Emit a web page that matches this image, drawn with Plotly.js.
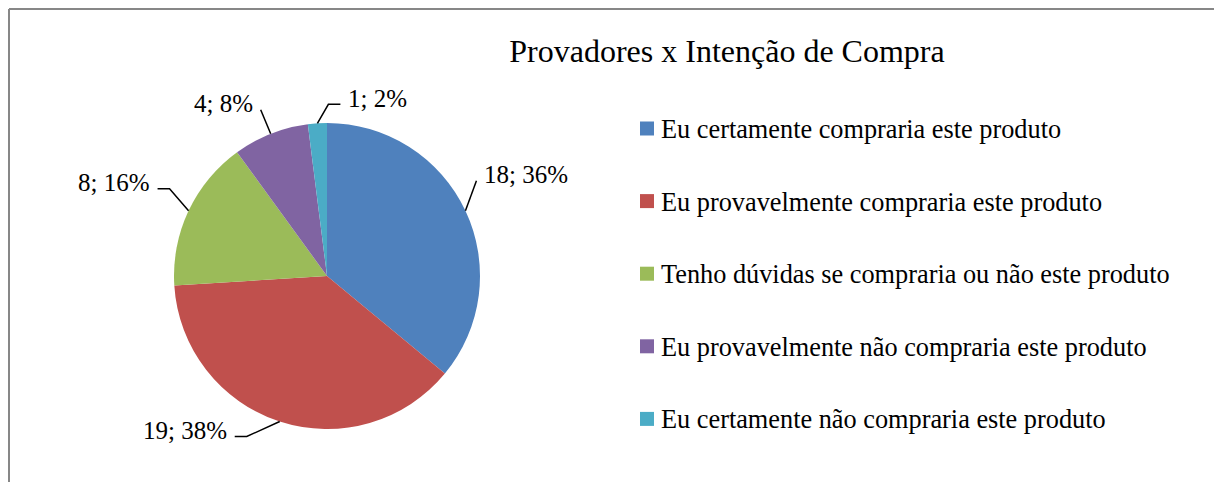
<!DOCTYPE html>
<html>
<head>
<meta charset="utf-8">
<script src="https://cdn.plot.ly/plotly-3.0.1.min.js"></script>
<style>
  html, body { margin: 0; padding: 0; background: #fff; }
  #chart { width: 1214px; height: 482px; }
</style>
</head>
<body>
<div id="chart"></div>
<script>
// ---- data ----
const titleText = "Provadores x Intenção de Compra";
const categories = [
  "Eu certamente compraria este produto",
  "Eu provavelmente compraria este produto",
  "Tenho dúvidas se compraria ou não este produto",
  "Eu provavelmente não compraria este produto",
  "Eu certamente não compraria este produto"
];
const counts = [18, 19, 8, 4, 1];
const colors = ["#4F81BD", "#C0504D", "#9BBB59", "#8064A2", "#4BACC6"];

// ---- layout constants (pixels) ----
const W = 1214, H = 482;
const FONT = "Liberation Serif";
const pieCx = 327, pieCy = 276, pieR = 153;
// leader lines: offset of elbow from slice edge [dx, dy] and horizontal tail length
const leaderStyle = [[11, -30, 0], [-33, 15, -12], [-19, -22, -12], [-10, -24, 0], [11, -19, 12]];
const legendX = 640, legendTop = 128.5, legendStep = 72.6, legendBox = 14;

const px = v => v / W;
const py = v => 1 - v / H;

const total = counts.reduce((a, b) => a + b, 0);

const trace = {
  type: "pie",
  values: counts,
  labels: categories,
  marker: { colors: colors, line: { width: 0 } },
  sort: false,
  direction: "clockwise",
  rotation: 0,
  textinfo: "none",
  hoverinfo: "skip",
  showlegend: false,
  domain: { x: [px(pieCx - pieR), px(pieCx + pieR)], y: [py(pieCy + pieR), py(pieCy - pieR)] }
};

const shapes = [];
const annotations = [];

// chart frame
shapes.push({ type: "line", xref: "paper", yref: "paper", x0: px(9), y0: py(9), x1: px(W + 5), y1: py(9), line: { color: "#878787", width: 2 } });
shapes.push({ type: "line", xref: "paper", yref: "paper", x0: px(9), y0: py(9), x1: px(9), y1: py(H + 5), line: { color: "#878787", width: 2 } });

// data labels with leader lines
let cum = 0;
counts.forEach((v, i) => {
  const mid = (cum + v / 2) / total * 2 * Math.PI;
  cum += v;
  const ex = pieCx + pieR * Math.sin(mid);
  const ey = pieCy - pieR * Math.cos(mid);
  const [dx, dy, tail] = leaderStyle[i];
  const kx = ex + dx, ky = ey + dy;
  const tx = kx + tail, ty = ky;
  const side = tail !== 0 ? Math.sign(tail) : Math.sign(dx);
  shapes.push({
    type: "path", xref: "paper", yref: "paper",
    path: `M ${px(ex)} ${py(ey)} L ${px(kx)} ${py(ky)} L ${px(tx)} ${py(ty)}`,
    line: { color: "#000", width: 1.5 }
  });
  const pct = Math.round(v / total * 100);
  annotations.push({
    xref: "paper", yref: "paper",
    x: px(tx + side * 6), y: py(ty - 6),
    xanchor: side > 0 ? "left" : "right", yanchor: "middle",
    text: `${v}; ${pct}%`, showarrow: false,
    font: { family: FONT, size: 25, color: "#000" }
  });
});

// legend
categories.forEach((c, i) => {
  const cy = legendTop + i * legendStep;
  shapes.push({
    type: "rect", xref: "paper", yref: "paper",
    x0: px(legendX), x1: px(legendX + legendBox),
    y0: py(cy + legendBox / 2), y1: py(cy - legendBox / 2),
    fillcolor: colors[i], line: { width: 0 }
  });
  annotations.push({
    xref: "paper", yref: "paper",
    x: px(legendX + legendBox + 5), y: py(cy + 1),
    xanchor: "left", yanchor: "middle",
    text: c, showarrow: false,
    font: { family: FONT, size: 26.3, color: "#000" }
  });
});

const layout = {
  width: W, height: H,
  margin: { l: 0, r: 0, t: 0, b: 0 },
  paper_bgcolor: "#fff",
  plot_bgcolor: "#fff",
  showlegend: false,
  font: { family: FONT },
  title: {
    text: titleText,
    xref: "paper", yref: "paper",
    x: px(727), y: py(51),
    xanchor: "center", yanchor: "middle",
    font: { family: FONT, size: 32, color: "#000" }
  },
  shapes: shapes,
  annotations: annotations
};

Plotly.newPlot("chart", [trace], layout, { displayModeBar: false, staticPlot: true });
</script>
</body>
</html>
